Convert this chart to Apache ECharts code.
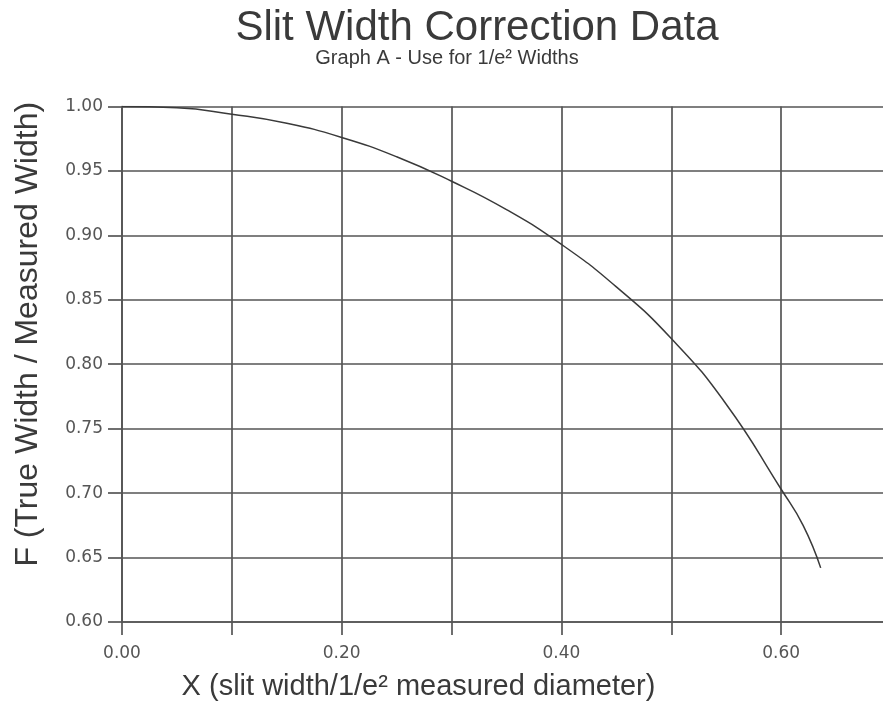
<!DOCTYPE html>
<html>
<head>
<meta charset="utf-8">
<script src="https://cdn.jsdelivr.net/npm/echarts@6/dist/echarts.min.js"></script>
<style>html,body{margin:0;padding:0;background:#fff}#c{width:883px;height:706px}</style>
</head>
<body>
<div id="c"></div>
<script>
const xValues = [0, 0.05, 0.1, 0.15, 0.2, 0.25, 0.3, 0.35, 0.4, 0.45, 0.5, 0.55, 0.6, 0.62, 0.636];
const fValues = [1.000, 0.999, 0.994, 0.987, 0.976, 0.961, 0.942, 0.920, 0.893, 0.860, 0.820, 0.769, 0.703, 0.675, 0.642];
const titleText = 'Slit Width Correction Data';
const subtitleText = 'Graph A - Use for 1/e² Widths';
const xName = 'X (slit width/1/e² measured diameter)';
const yName = 'F (True Width / Measured Width)';

const chart = echarts.init(document.getElementById('c'), null, {renderer: 'canvas'});
const font = '"Liberation Sans", Arial, Helvetica, sans-serif';
const tickFont = '"DejaVu Sans", Verdana, sans-serif';
const gridColor = '#555';
chart.setOption({
  backgroundColor: '#fff',
  animation: false,
  title: [
    {text: titleText, left: 477, textAlign: 'center', top: 7, padding: 0,
     textStyle: {fontFamily: font, fontSize: 42, fontWeight: 'normal', color: '#3a3a3a'}},
    {text: subtitleText, left: 447, textAlign: 'center', top: 48, padding: 0,
     textStyle: {fontFamily: font, fontSize: 20, fontWeight: 'normal', color: '#3a3a3a'}}
  ],
  grid: {left: 122, top: 106.5, width: 769, height: 515.5, containLabel: false, outerBoundsMode: 'none'},
  xAxis: {
    type: 'value', min: 0, max: 0.7, interval: 0.1,
    name: xName, nameLocation: 'middle', nameGap: 50,
    nameTextStyle: {fontFamily: font, fontSize: 29, color: '#3a3a3a', padding: [0, 176, 0, 0]},
    axisLine: {show: true, lineStyle: {color: gridColor, width: 1.7}},
    axisTick: {show: true, length: 13, lineStyle: {color: gridColor, width: 1.7}},
    splitLine: {show: true, lineStyle: {color: gridColor, width: 1.7}},
    axisLabel: {margin: 23, fontFamily: tickFont, fontSize: 17, color: '#555',
      formatter: v => (Math.round(v * 10) % 2 === 0 ? v.toFixed(2) : '')}
  },
  yAxis: {
    type: 'value', min: 0.6, max: 1.0, interval: 0.05,
    name: yName, nameLocation: 'middle', nameGap: 78,
    nameTextStyle: {fontFamily: font, fontSize: 32, color: '#3a3a3a', padding: [0, 0, 0, 60]},
    axisLine: {show: true, lineStyle: {color: gridColor, width: 1.7}},
    axisTick: {show: true, length: 14, lineStyle: {color: gridColor, width: 1.7}},
    splitLine: {show: true, lineStyle: {color: gridColor, width: 1.7}},
    axisLabel: {margin: 19, fontFamily: tickFont, fontSize: 17, color: '#555',
      formatter: v => v.toFixed(2)}
  },
  series: [{
    type: 'line', smooth: true, showSymbol: false,
    data: xValues.map((x, i) => [x, fValues[i]]),
    lineStyle: {color: '#3a3a3a', width: 1.5}
  }]
});
</script>
</body>
</html>
